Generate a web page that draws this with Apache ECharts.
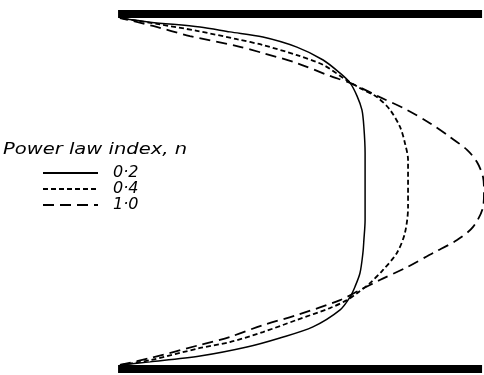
<!DOCTYPE html>
<html>
<head>
<meta charset="utf-8">
<script src="https://cdn.jsdelivr.net/npm/echarts@6/dist/echarts.min.js"></script>
<style>
  html, body { margin: 0; padding: 0; background: #fff; }
  #chart { width: 484px; height: 375px; }
</style>
</head>
<body>
<div id="chart"></div>
<script>
// Velocity profiles of a power-law fluid between two parallel walls.
// y: position across the gap (0 = lower wall, 1 = upper wall)
// u: velocity (dimensionless)

const indexLabels = ['0·2', '0·4', '1·0'];
const legendTitle = 'Power law index, n';

// n = 0.2
const yN02 = [0, 0.009, 0.026, 0.052, 0.078, 0.110, 0.159, 0.196, 0.225, 0.265,
              0.323, 0.360, 0.418, 0.5, 0.611, 0.686, 0.735, 0.775, 0.813, 0.841,
              0.879, 0.916, 0.945, 0.960, 0.974, 0.988, 1];
const uN02 = [0, 0.124, 0.330, 0.523, 0.659, 0.795, 0.907, 0.948, 0.968, 0.989,
              1.001, 1.005, 1.010, 1.010, 1.010, 1.005, 0.997, 0.977, 0.948, 0.907,
              0.837, 0.729, 0.589, 0.453, 0.330, 0.124, 0];

// n = 0.4
const yN04 = [0, 0.014, 0.049, 0.066, 0.095, 0.130, 0.164, 0.187, 0.207, 0.236,
              0.274, 0.323, 0.380, 0.455, 0.5, 0.591, 0.640, 0.686, 0.735, 0.772,
              0.798, 0.824, 0.865, 0.893, 0.922, 0.939, 0.963, 0.983, 1];
const uN04 = [0, 0.124, 0.330, 0.453, 0.589, 0.729, 0.865, 0.935, 0.977, 1.030,
              1.084, 1.141, 1.174, 1.187, 1.187, 1.187, 1.174, 1.154, 1.113, 1.059,
              0.989, 0.927, 0.837, 0.729, 0.589, 0.482, 0.317, 0.152, 0];

// n = 1.0
const yN10 = [0, 0.020, 0.058, 0.081, 0.115, 0.144, 0.187, 0.216, 0.245, 0.282,
              0.323, 0.360, 0.398, 0.455, 0.5, 0.542, 0.585, 0.620, 0.657, 0.697,
              0.735, 0.772, 0.813, 0.833, 0.870, 0.899, 0.919, 0.948, 0.977, 1];
const uN10 = [0, 0.124, 0.330, 0.453, 0.589, 0.729, 0.907, 0.989, 1.071, 1.183,
              1.290, 1.389, 1.455, 1.496, 1.500, 1.496, 1.471, 1.430, 1.360, 1.277,
              1.183, 1.071, 0.948, 0.865, 0.729, 0.589, 0.482, 0.288, 0.136, 0];

// Walls (drawn as solid bars just outside the gap)
const wallThickness = 0.023;
const wallStart = -0.008;
const wallEnd = 1.492;

const pairs = (u, y) => u.map((v, i) => [v, y[i]]);

const FONT = 'DejaVu Sans';
const dashStyles = [
  { type: 'solid', width: 1.5 },
  { type: [5, 3], width: 1.8 },
  { type: [11, 6], width: 1.8 }
];
const profiles = [pairs(uN02, yN02), pairs(uN04, yN04), pairs(uN10, yN10)];

const series = profiles.map((data, i) => ({
  name: indexLabels[i],
  type: 'line',
  data: data,
  smooth: 0.3,
  symbol: 'none',
  clip: false,
  lineStyle: Object.assign({ color: '#000' }, dashStyles[i]),
  itemStyle: { color: '#000' }
}));

series[0].markArea = {
  silent: true,
  itemStyle: { color: '#000' },
  data: [
    [{ xAxis: wallStart, yAxis: 1 }, { xAxis: wallEnd, yAxis: 1 + wallThickness }],
    [{ xAxis: wallStart, yAxis: -wallThickness }, { xAxis: wallEnd, yAxis: 0 }]
  ]
};

const chart = echarts.init(document.getElementById('chart'), null, { renderer: 'canvas' });
chart.setOption({
  animation: false,
  backgroundColor: '#fff',
  graphic: [{
    type: 'text',
    x: 3,
    y: 150,
    scaleX: 1.22,
    style: {
      text: legendTitle,
      fontFamily: FONT,
      fontStyle: 'italic',
      fontSize: 16,
      fill: '#000',
      verticalAlign: 'middle',
      align: 'left'
    }
  }],
  legend: {
    orient: 'vertical',
    left: 42,
    top: 165,
    padding: 0,
    itemWidth: 55,
    itemHeight: 14,
    itemGap: 0,
    data: indexLabels,
    itemStyle: { opacity: 0 },
    textStyle: { fontFamily: FONT, fontStyle: 'italic', fontSize: 16, color: '#000', padding: [0, 0, 0, 10] }
  },
  grid: { left: 117.57, right: 0, top: 9.325, bottom: 1.325 },
  xAxis: {
    type: 'value', min: -0.01, max: 1.5,
    axisLine: { show: false }, axisTick: { show: false }, axisLabel: { show: false }, splitLine: { show: false }
  },
  yAxis: {
    type: 'value', min: -0.025, max: 1.025,
    axisLine: { show: false }, axisTick: { show: false }, axisLabel: { show: false }, splitLine: { show: false }
  },
  series: series
});
</script>
</body>
</html>
